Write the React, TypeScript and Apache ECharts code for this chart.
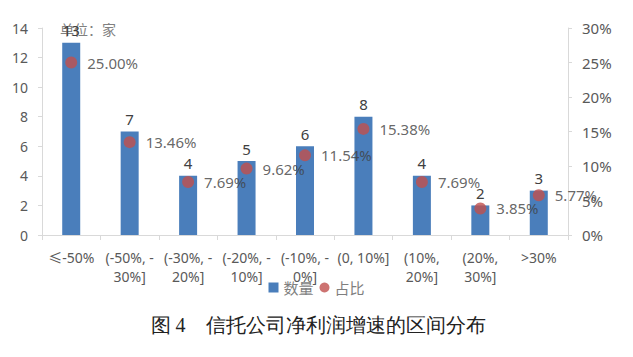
import React, { useEffect, useRef } from "react";
import * as echarts from "echarts";

const categories = ["≤-50%", "(-50%, -\n30%]", "(-30%, -\n20%]", "(-20%, -\n10%]", "(-10%, -\n0%]", "(0, 10%]", "(10%,\n20%]", "(20%,\n30%]", ">30%"];
const counts = [13, 7, 4, 5, 6, 8, 4, 2, 3];
const shares = [25.0, 13.46, 7.69, 9.62, 11.54, 15.38, 7.69, 3.85, 5.77];
const leftTicks = [0, 2, 4, 6, 8, 10, 12, 14];
const rightTicks = [0, 5, 10, 15, 20, 25, 30];

export default function App() {
  const ref = useRef<HTMLDivElement>(null);
  useEffect(() => {
    const chart = echarts.init(ref.current!, null, { renderer: "svg" });
    const axisColor = "#d9d9d9";
    const labelColor = "#595959";
    chart.setOption({
      animation: false,
      backgroundColor: "#ffffff",
      textStyle: { fontFamily: "'Noto Sans', 'Noto Sans CJK SC', sans-serif" },
      grid: { left: 42, right: 65, top: 28, bottom: 122 },
      legend: {
        bottom: 57,
        left: "center",
        itemWidth: 10,
        itemHeight: 10,
        itemGap: 6,
        textStyle: { color: "#7f7f7f", fontSize: 15, fontFamily: "'Noto Sans CJK SC', sans-serif" },
        data: [
          { name: "数量", icon: "rect" },
          { name: "占比", icon: "circle" },
        ],
      },
      xAxis: {
        type: "category",
        data: categories,
        axisLine: { lineStyle: { color: axisColor } },
        axisTick: { show: true, alignWithLabel: false, length: 5, lineStyle: { color: axisColor } },
        axisLabel: { color: labelColor, fontSize: 14, interval: 0, margin: 13, lineHeight: 19 },
      },
      yAxis: [
        {
          type: "value",
          min: leftTicks[0],
          max: leftTicks[leftTicks.length - 1],
          interval: 2,
          splitLine: { show: false },
          axisLine: { show: true, lineStyle: { color: axisColor } },
          axisTick: { show: true, length: 4, lineStyle: { color: axisColor } },
          axisLabel: { color: labelColor, fontSize: 14, margin: 14 },
        },
        {
          type: "value",
          min: rightTicks[0],
          max: rightTicks[rightTicks.length - 1],
          interval: 5,
          position: "right",
          splitLine: { show: false },
          axisLine: { show: true, lineStyle: { color: axisColor } },
          axisTick: { show: true, length: 4, lineStyle: { color: axisColor } },
          axisLabel: { color: labelColor, fontSize: 15, margin: 14, formatter: "{value}%" },
        },
      ],
      series: [
        {
          name: "数量",
          type: "bar",
          data: counts,
          barWidth: 18,
          itemStyle: { color: "#4a7ebb" },
          label: { show: true, position: "top", color: "#404040", fontSize: 15, distance: 5 },
        },
        {
          name: "占比",
          type: "scatter",
          yAxisIndex: 1,
          data: shares,
          symbolSize: 12,
          itemStyle: { color: "#c0504d" },
          label: {
            show: true,
            position: "right",
            distance: 10,
            color: "#404040",
            fontSize: 15,
            formatter: (p: any) => p.value.toFixed(2) + "%",
          },
        },
      ],
      graphic: [
        {
          type: "text",
          left: 60,
          top: 22,
          style: { text: "单位：家", fill: "#808080", fontSize: 14, fontFamily: "'Noto Sans CJK SC', sans-serif" },
        },
        {
          type: "text",
          x: 318,
          y: 325,
          style: {
            text: "图 4　信托公司净利润增速的区间分布",
            fill: "#222222",
            fontSize: 20,
            fontFamily: "serif",
            align: "center",
            verticalAlign: "middle",
          },
        },
      ],
    });
    return () => chart.dispose();
  }, []);
  return <div ref={ref} style={{ position: "absolute", left: 0, top: 0, width: 633, height: 357 }} />;
}
